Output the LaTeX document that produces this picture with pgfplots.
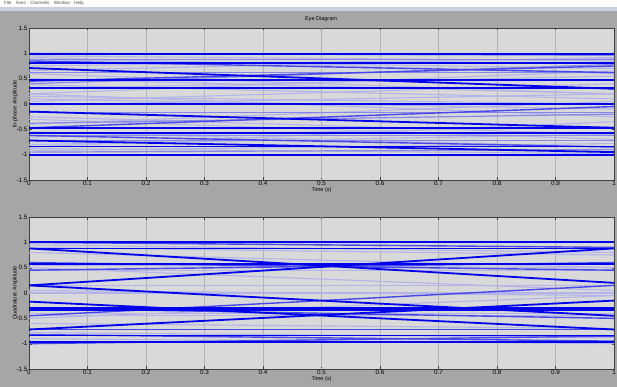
\documentclass[border=0pt]{standalone}
\usepackage{pgfplots}
\pgfplotsset{compat=1.18}
\usepackage{fontspec}
\setmainfont{Liberation Sans}
\definecolor{figbg}{RGB}{166,166,166}
\definecolor{axbg}{RGB}{217,217,217}
\definecolor{gridc}{RGB}{178,178,178}
\definecolor{strip}{RGB}{200,207,222}
\definecolor{cdk}{RGB}{0,0,235}
\definecolor{cmd}{RGB}{70,70,235}
\definecolor{cml}{RGB}{135,135,232}
\definecolor{clt}{RGB}{180,180,232}
\newcommand\seg[3]{\addplot[#1] coordinates {(0,#2) (1,#3)};}
\pgfplotsset{
  eyeax/.style={
    scale only axis, width=585pt, height=152pt,
    xmin=0, xmax=1, ymin=-1.5, ymax=1.5,
    xtick={0,0.1,0.2,0.3,0.4,0.5,0.6,0.7,0.8,0.9,1.0}, ytick={-1.5,-1,-0.5,0,0.5,1,1.5},
    xticklabels={0,0.1,0.2,0.3,0.4,0.5,0.6,0.7,0.8,0.9,1},
    yticklabels={-1.5,-1,-0.5,0,0.5,1,1.5},
    xmajorgrids, grid style={gridc, line width=0.6pt},
    axis background/.style={fill=axbg},
    axis line style={black!75, line width=0.6pt},
    tick align=inside, major tick length=2.5pt,
    tick style={black!75},
    ticklabel style={font=\fontsize{6.3}{6.3}\selectfont},
    xticklabel style={yshift=2pt},
    yticklabel style={xshift=2pt},
    label style={font=\fontsize{5.5}{6}\selectfont},
    xlabel={Time (s)},
    xlabel style={yshift=5pt},
    ylabel style={yshift=-8pt},
    /pgf/number format/assume math mode=true,
    clip=true,
    every axis plot/.append style={no markers, line join=round},
  },
  tL/.style={clt, line width=1.1pt},
  tML/.style={cml, line width=1.2pt},
  tM/.style={cmd, line width=1.4pt},
  tD/.style={cdk, line width=1.8pt},
}
\begin{document}
\begin{tikzpicture}[x=1pt,y=1pt]
\useasboundingbox (0,0) rectangle (617,387);
\fill[figbg] (0,0) rectangle (617,387);
\fill[white] (0,380) rectangle (617,387);
\fill[strip] (0,376) rectangle (617,380);
\node[anchor=west, font=\fontsize{4.5}{4.5}\selectfont, text=black!70, inner sep=0pt] at (4,383.6) {File\quad Axes\quad Channels\quad Window\quad Help};
\node[font=\fontsize{5.5}{6}\selectfont] at (321,368) {Eye Diagram};
% ---------- In-phase ----------
\begin{axis}[eyeax, at={(29pt,207pt)}, anchor=south west, ylabel={In-phase Amplitude}]
\addplot[gridc, densely dotted, line width=0.8pt] coordinates {(0.5,-1.5) (0.5,1.5)};
% light traces
\seg{tL}{0.95}{0.85}
\seg{tL}{0.88}{0.70}
\seg{tL}{0.75}{0.90}
\seg{tL}{0.60}{0.20}
\seg{tL}{0.50}{0.20}
\seg{tL}{0.30}{0.55}
\seg{tL}{0.20}{-0.25}
\seg{tL}{0.20}{0.65}
\seg{tL}{0.15}{0.00}
\seg{tL}{-0.02}{0.20}
\seg{tL}{-0.30}{-0.70}
\seg{tL}{-0.55}{-0.85}
\seg{tL}{-0.80}{-0.60}
\seg{tL}{-0.85}{-0.35}
\seg{tL}{0.10}{-0.10}
\seg{tL}{-0.65}{-0.45}
\seg{tL}{0.92}{0.60}
\seg{tL}{0.66}{0.92}
\seg{tL}{0.38}{0.10}
\seg{tL}{-0.25}{-0.60}
\seg{tL}{-0.88}{-0.98}
\seg{tL}{-0.92}{-0.78}
\seg{tL}{0.05}{0.40}
\seg{tL}{-0.40}{0.05}
% medium traces
\seg{tML}{1.00}{0.96}
\seg{tML}{0.62}{0.62}
\seg{tML}{0.40}{0.78}
\seg{tML}{-0.17}{-0.17}
\seg{tML}{-0.72}{-0.72}
\seg{tML}{-0.95}{-0.90}
\seg{tML}{-0.38}{-0.20}
\seg{tML}{0.88}{0.88}
\seg{tML}{-0.62}{-0.62}
\seg{tM}{0.45}{0.75}
\seg{tM}{-0.47}{-0.05}
\seg{tM}{0.85}{0.62}
\seg{tM}{-0.62}{-0.85}
% dark traces
\seg{tD}{0.98}{0.98}
\seg{tD}{0.81}{0.81}
\seg{tD}{0.71}{0.30}
\seg{tD}{0.48}{0.48}
\seg{tD}{0.31}{0.31}
\seg{tD}{0.00}{0.00}
\seg{tD}{-0.15}{-0.47}
\seg{tD}{-0.47}{-0.47}
\seg{tD}{-0.58}{-0.58}
\seg{tD}{-0.72}{-0.95}
\seg{tD}{-0.84}{-0.84}
\seg{tD}{-1.00}{-1.00}
\end{axis}
% ---------- Quadrature ----------
\begin{axis}[eyeax, at={(29pt,18pt)}, anchor=south west, ylabel={Quadrature Amplitude}]
\addplot[gridc, densely dotted, line width=0.8pt] coordinates {(0.5,-1.5) (0.5,1.5)};
\addplot[gridc, densely dotted, line width=0.8pt] coordinates {(0,0) (1,0)};
% light traces
\seg{tL}{0.90}{0.75}
\seg{tL}{0.45}{0.45}
\seg{tL}{0.15}{0.15}
\seg{tL}{0.00}{0.00}
\seg{tL}{0.05}{-0.05}
\seg{tL}{-0.45}{-0.45}
\seg{tL}{-0.90}{-1.00}
\seg{tL}{0.50}{0.05}
\seg{tL}{-0.50}{-0.05}
\seg{tL}{0.80}{0.50}
\seg{tL}{-0.60}{-0.70}
\seg{tL}{0.95}{0.80}
\seg{tL}{0.55}{0.50}
\seg{tL}{-0.40}{-0.40}
\seg{tL}{-0.78}{-0.88}
% medium traces
\seg{tM}{0.60}{0.45}
\seg{tM}{0.45}{0.60}
\seg{tM}{-0.45}{0.15}
\seg{tM}{-0.30}{-0.50}
\seg{tM}{-0.72}{-0.72}
\seg{tM}{-0.82}{-0.95}
\seg{tM}{-1.00}{-0.85}
\seg{tM}{1.00}{0.90}
% dark traces
\seg{tD}{1.00}{1.00}
\seg{tD}{0.88}{0.88}
\seg{tD}{0.88}{0.20}
\seg{tD}{0.15}{0.88}
\seg{tD}{0.57}{0.57}
\seg{tD}{0.15}{-0.45}
\seg{tD}{-0.30}{-0.30}
\seg{tD}{-0.33}{-0.33}
\seg{tD}{-0.72}{-0.15}
\seg{tD}{-0.17}{-0.72}
\seg{tD}{-0.84}{-0.84}
\seg{tD}{-0.97}{-0.97}
\end{axis}
\end{tikzpicture}
\end{document}
